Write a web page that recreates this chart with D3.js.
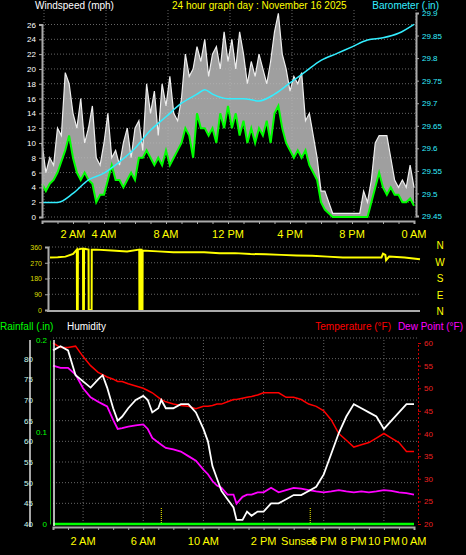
<!DOCTYPE html>
<html><head><meta charset="utf-8">
<script src="https://cdn.jsdelivr.net/npm/d3@7"></script>
<style>body{margin:0;background:#000}svg{display:block;font-family:"Liberation Sans",Arial,sans-serif}</style>
</head><body><div id="chart"></div>
<script>
// wind, 15 minute steps from midnight
const gust = [10,6,8,7,12,11,19.5,18,14,12,16,10,12,15,8,7,10,14,8,9,7,10,12,8,12,13,9,18,14,17,11,18,15,19,14,13,16,22,19,20,23,21,24,19,22,23,20,25,21,24,20,25,22,18,21,19,22,20,18,21,25,27.5,22,20,17,19,18,19.5,13,14,11,8,3.5,3.5,2,0.5,0.5,0.5,0.5,0.5,0.5,0.5,0.5,3.5,2,5,10,11,11,11,8,5,4,5,4,7,4]
const avgWind = [4.5,3.5,4.5,5,6,7.5,9,11,8,6,5,6,5,4.5,2,3,3,5,7,5,5,4,5,6,5,8,8,9,8,7,8,7,9,7,8,9,10,12,11,8,14,12,12,11,12,10,14,12,15,12,14,11,13,10,12,10,12,11,13,10,14,15,12,10,9,8,9,8,9,7,6,5,2,1,0.5,0,0,0,0,0,0,0,0,0,0,2,4,6,4,3,4,3,3,2,2,2.5,1.5]
const baroHours = [0,1,2,3,4,5,6,7,8,9,10,10.5,11,12,13,14,15,16,17,18,19,20,21,22,23,24]
const baro = [29.48,29.48,29.5,29.53,29.545,29.57,29.6,29.64,29.67,29.7,29.72,29.73,29.72,29.71,29.71,29.705,29.72,29.745,29.77,29.795,29.81,29.825,29.84,29.845,29.855,29.875]
const dirHours = [0,0.5,1,1.5,1.74,1.75,1.8,1.81,2,2.14,2.15,2.2,2.21,2.5,2.51,2.7,2.71,3,4,5,5.79,5.8,5.85,5.86,5.94,5.95,6,6.01,7,8,9,10,11,12,13,14,15,16,17,18,19,20,21,21.5,21.6,21.75,21.8,22,23,24]
const dirDeg = [300,302,305,320,345,0,0,345,350,350,0,0,350,345,0,0,345,345,340,335,345,0,0,345,345,0,0,340,335,330,330,330,325,325,320,318,315,312,310,305,300,300,300,300,322,315,285,305,300,290]
const wxHours = [0,0.5,1,1.5,2,2.5,3,3.3,3.6,4,4.3,4.6,5,5.5,6,6.3,6.6,7,7.2,7.5,8,8.5,9,9.5,10,10.3,10.6,10.9,11.2,11.6,12,12.2,12.6,12.9,13.2,13.6,14,14.5,15,15.5,16,16.5,17,17.5,18,18.5,19,19.5,20,20.5,21,21.5,22,22.5,23,23.5,24]
const humidity = [82,83,82,76,74.5,73,75,76,73,68,65,66,68,70,71,70,67,68,70,68,68,69,69,67,63,60,54,51,48,46,44,41,41,43,42,43,43,45,45,46,47,47,48,49,52,57,62,66,69,68,67,66,63,65,67,69,69]
const temperature = [60,59,59,59.3,57,55,53.5,53,52.5,52,51.5,51.5,51,50.5,50,49.5,49,48,47.5,47,46.5,46.2,46,45.5,46,46,46.2,46.5,46.5,47,47.5,47.5,47.8,48,48.2,48.5,49,49,49,48,48,47.5,46.5,46,45,43,40,38.5,37,37.5,38,39,40,39,38,36,36]
const dewPoint = [55,54.5,54.5,53,50,48,47,46.5,46,43,41,41.2,41.5,41.8,42,41,39,38,37.5,36.8,36.5,36,35,34,32,31,29.5,28.5,28,26.5,26.5,24.5,26,26.5,26.5,27,27,28,27,27.5,28,27.8,27.5,27.2,27,27.2,27.5,27.2,27,27.2,27,27.2,27.5,27.3,27,26.8,26.5]
const rain = [0,0]
const topTicks = [2,4,8,12,16,20,24]
const topLabels = ['2 AM','4 AM','8 AM','12 PM','4 PM','8 PM','0 AM']
const botTicks = [2,6,10,14,20,22,24]
const botLabels = ['2 AM','6 AM','10 AM','2 PM','8 PM','10 PM','0 AM']
const compass = ['N','W','S','E','N']

const W = 466, H = 555
const svg = d3.select('#chart').append('svg').attr('width', W).attr('height', H)
svg.append('rect').attr('width', W).attr('height', H).attr('fill', '#000')
const t15 = d3.range(gust.length).map(i => i / 4)

// ---------- top panel ----------
const x1 = d3.scaleLinear().domain([0, 24]).range([42, 414])
const yW = d3.scaleLinear().domain([0, 26]).range([217, 24.5])
const yB = d3.scaleLinear().domain([29.45, 29.9]).range([216, 13])
const g1 = svg.append('g')
d3.range(0, 27, 2).forEach(v => g1.append('line').attr('x1', 42).attr('x2', 416).attr('y1', yW(v)).attr('y2', yW(v))
  .attr('stroke', '#666').attr('stroke-dasharray', '1,2'))
;[0, 4, 8, 12, 16, 20, 24].forEach(h => g1.append('line').attr('x1', x1(h) + 2).attr('x2', x1(h) + 2).attr('y1', 10).attr('y2', 218)
  .attr('stroke', '#666').attr('stroke-dasharray', '1,2'))
g1.append('path').datum(t15).attr('fill', '#bbb').attr('opacity', 0.85)
  .attr('d', d3.area().x(t => x1(t)).y0((t, i) => yW(avgWind[i])).y1((t, i) => yW(gust[i])))
g1.append('path').datum(t15).attr('fill', 'none').attr('stroke', '#eee').attr('stroke-width', 1.2)
  .attr('d', d3.line().x(t => x1(t)).y((t, i) => yW(gust[i])))
g1.append('path').datum(t15).attr('fill', 'none').attr('stroke', '#00ff00').attr('stroke-width', 2)
  .attr('d', d3.line().x(t => x1(t)).y((t, i) => yW(avgWind[i])))
g1.append('path').datum(baroHours).attr('fill', 'none').attr('stroke', '#33eeff').attr('stroke-width', 1.5)
  .attr('d', d3.line().x(h => x1(h)).y((h, i) => yB(baro[i])).curve(d3.curveMonotoneX))
g1.append('g').attr('transform', 'translate(42,0)').call(d3.axisLeft(yW).tickValues(d3.range(0, 27, 2)).tickSize(3))
  .call(a => { a.select('.domain').attr('stroke', '#aaa').attr('stroke-width', 2); a.selectAll('line').attr('stroke', '#aaa'); a.selectAll('text').attr('fill', '#fff').style('font-size', '8px') })
g1.append('g').attr('transform', 'translate(416,0)').call(d3.axisRight(yB).tickValues(d3.range(29.45, 29.91, 0.05)).tickFormat(d3.format('.4~f')).tickSize(3))
  .call(a => { a.select('.domain').attr('stroke', '#aaa').attr('stroke-width', 2); a.selectAll('line').attr('stroke', '#aaa'); a.selectAll('text').attr('fill', '#33eeff').style('font-size', '8px') })
g1.append('g').attr('transform', 'translate(0,221)').call(d3.axisBottom(x1).ticks(24).tickSize(3).tickFormat(''))
  .call(a => { a.select('.domain').attr('stroke', '#aaa').attr('stroke-width', 2); a.selectAll('line').attr('stroke', '#aaa') })
topTicks.forEach((h, i) => g1.append('text').attr('x', x1(h)).attr('y', 238).attr('text-anchor', 'middle')
  .attr('fill', '#ffff00').style('font-size', '11px').text(topLabels[i]))
svg.append('text').attr('x', 35).attr('y', 9).attr('fill', '#fff').style('font-size', '10px').text('Windspeed (mph)')
svg.append('text').attr('x', 172).attr('y', 9).attr('fill', '#ffff00').style('font-size', '10px').text('24 hour graph day : November 16 2025')
svg.append('text').attr('x', 439).attr('y', 9).attr('fill', '#33eeff').attr('text-anchor', 'end').style('font-size', '10px').text('Barometer (.in)')

// ---------- wind direction ----------
const x2 = d3.scaleLinear().domain([0, 24]).range([50, 420])
const yD = d3.scaleLinear().domain([0, 360]).range([310, 247])
const g2 = svg.append('g')
;[90, 180, 270, 360].forEach(v => g2.append('line').attr('x1', 49).attr('x2', 420).attr('y1', yD(v)).attr('y2', yD(v))
  .attr('stroke', '#666').attr('stroke-dasharray', '1,2'))
g2.append('path').datum(dirHours).attr('fill', 'none').attr('stroke', '#ffff00').attr('stroke-width', 2)
  .attr('d', d3.line().x(h => x2(h)).y((h, i) => yD(dirDeg[i])))
g2.append('g').attr('transform', 'translate(48,0)').call(d3.axisLeft(yD).tickValues([0, 90, 180, 270, 360]).tickSize(3))
  .call(a => { a.select('.domain').attr('stroke', '#aaa').attr('stroke-width', 2); a.selectAll('line').attr('stroke', '#aaa'); a.selectAll('text').attr('fill', '#dddd00').style('font-size', '7px') })
g2.append('line').attr('x1', 47).attr('x2', 420).attr('y1', 311).attr('y2', 311).attr('stroke', '#aaa').attr('stroke-width', 2)
compass.forEach((c, i) => g2.append('text').attr('x', 440).attr('y', 249 + i * 16.5).attr('text-anchor', 'middle')
  .attr('fill', '#ffff00').style('font-size', '10px').text(c))

// ---------- bottom panel ----------
const x3 = d3.scaleLinear().domain([0, 24]).range([53, 414])
const yH = d3.scaleLinear().domain([40, 85]).range([524, 338])
const yT = d3.scaleLinear().domain([20, 60]).range([524, 343])
const yR = d3.scaleLinear().domain([0, 0.2]).range([524, 340])
const g3 = svg.append('g')
d3.range(45, 86, 5).forEach(v => g3.append('line').attr('x1', 53).attr('x2', 418).attr('y1', yH(v)).attr('y2', yH(v))
  .attr('stroke', '#666').attr('stroke-dasharray', '1,2'))
;[2, 6, 10, 14, 18, 22].forEach(h => g3.append('line').attr('x1', x3(h)).attr('x2', x3(h)).attr('y1', 340).attr('y2', 524)
  .attr('stroke', '#666').attr('stroke-dasharray', '1,2'))
;[7.2, 17.1].forEach(h => g3.append('line').attr('x1', x3(h)).attr('x2', x3(h)).attr('y1', 508).attr('y2', 524)
  .attr('stroke', '#ffff00').attr('stroke-dasharray', '1,1'))
g3.append('path').datum(wxHours).attr('fill', 'none').attr('stroke', '#ff00ff').attr('stroke-width', 1.8)
  .attr('d', d3.line().x(h => x3(h)).y((h, i) => yT(dewPoint[i])))
g3.append('path').datum(wxHours).attr('fill', 'none').attr('stroke', '#ff0000').attr('stroke-width', 1.5)
  .attr('d', d3.line().x(h => x3(h)).y((h, i) => yT(temperature[i])))
g3.append('path').datum(wxHours).attr('fill', 'none').attr('stroke', '#fff').attr('stroke-width', 1.8)
  .attr('d', d3.line().x(h => x3(h)).y((h, i) => yH(humidity[i])))
g3.append('path').datum([0, 24]).attr('fill', 'none').attr('stroke', '#00ff00').attr('stroke-width', 2.5)
  .attr('d', d3.line().x(h => x3(h)).y((h, i) => yR(rain[i])))
g3.append('g').attr('transform', 'translate(36,0)').call(d3.axisLeft(yH).tickValues(d3.range(40, 81, 5)).tickSize(0))
  .call(a => { a.select('.domain').remove(); a.selectAll('text').attr('fill', '#cfe').style('font-size', '8px') })
g3.append('line').attr('x1', 30).attr('x2', 30).attr('y1', 340).attr('y2', 527).attr('stroke', '#ddd').attr('stroke-width', 1.5)
g3.append('g').attr('transform', 'translate(50,0)').call(d3.axisLeft(yR).tickValues([0, 0.1, 0.2]).tickSize(0).tickFormat(d3.format('~g')))
  .call(a => { a.select('.domain').attr('stroke', '#1a1').attr('stroke-width', 1); a.selectAll('text').attr('fill', '#00ff00').style('font-size', '8px') })
g3.append('line').attr('x1', 54).attr('x2', 54).attr('y1', 340).attr('y2', 526).attr('stroke', '#eee').attr('stroke-width', 1.5)
g3.append('g').attr('transform', 'translate(418,0)').call(d3.axisRight(yT).tickValues(d3.range(20, 61, 5)).tickSize(3))
  .call(a => { a.select('.domain').attr('stroke', '#c00').attr('stroke-dasharray', '2,2'); a.selectAll('line').attr('stroke', '#c00'); a.selectAll('text').attr('fill', '#ee2222').style('font-size', '8px') })
g3.append('g').attr('transform', 'translate(0,527)').call(d3.axisBottom(x3).ticks(24).tickSize(3).tickFormat(''))
  .call(a => { a.select('.domain').attr('stroke', '#aaa').attr('stroke-width', 2); a.selectAll('line').attr('stroke', '#aaa') })
botTicks.forEach((h, i) => g3.append('text').attr('x', x3(h)).attr('y', 545).attr('text-anchor', 'middle')
  .attr('fill', '#ffff00').style('font-size', '11px').text(botLabels[i]))
g3.append('text').attr('x', x3(18)).attr('y', 545).attr('text-anchor', 'middle').attr('fill', '#ffff00').style('font-size', '11px').text('6 PM')
g3.append('text').attr('x', x3(16.3)).attr('y', 545).attr('text-anchor', 'middle').attr('fill', '#ffff00').style('font-size', '11px').text('Sunset')
svg.append('text').attr('x', 0).attr('y', 330).attr('fill', '#00ff00').style('font-size', '10px').text('Rainfall (.in)')
svg.append('text').attr('x', 67).attr('y', 330).attr('fill', '#fff').style('font-size', '10px').text('Humidity')
svg.append('text').attr('x', 391).attr('y', 330).attr('fill', '#ff0000').attr('text-anchor', 'end').style('font-size', '10px').text('Temperature (°F)')
svg.append('text').attr('x', 463).attr('y', 330).attr('fill', '#ff00ff').attr('text-anchor', 'end').style('font-size', '10px').text('Dew Point (°F)')
</script></body></html>
